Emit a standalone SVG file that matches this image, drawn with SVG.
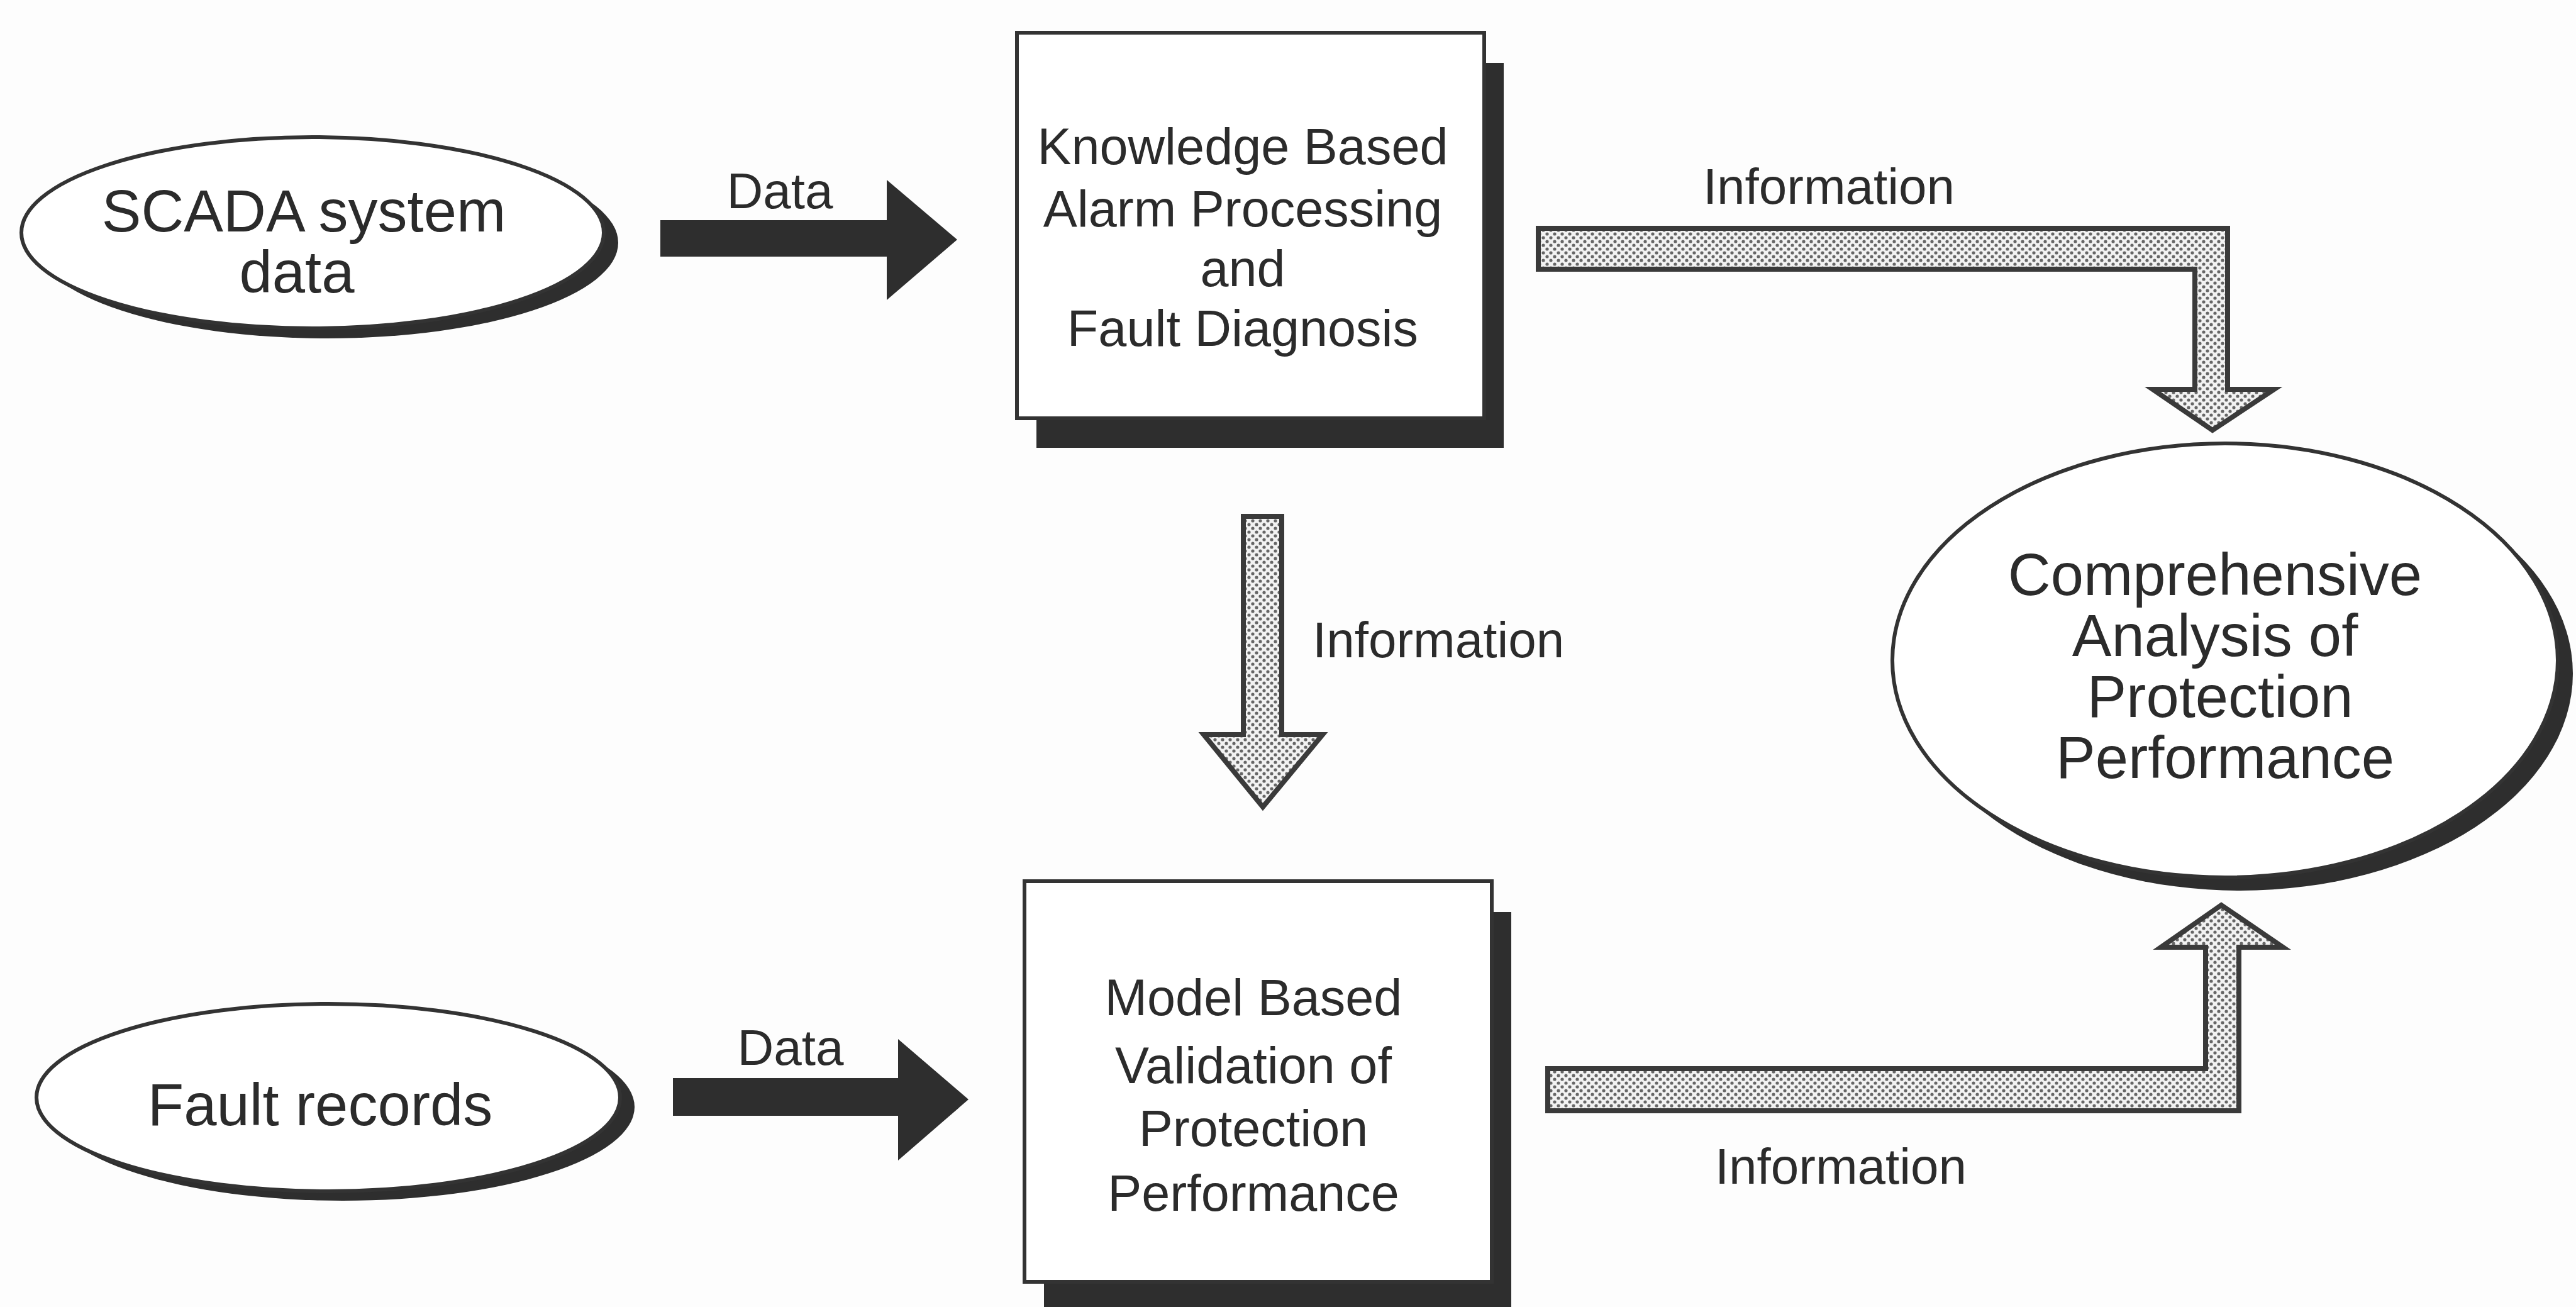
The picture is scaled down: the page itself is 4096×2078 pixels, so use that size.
<svg xmlns="http://www.w3.org/2000/svg" width="4096" height="2078" viewBox="0 0 4096 2078">
  <style>
    .lbl { font-family: "Liberation Sans", Arial, Helvetica, sans-serif; fill: #2b2b2b; text-anchor: middle; }
    .node-text { font-size: 81px; }
    .oval-text { font-size: 94px; }
    .edge-text { font-size: 80px; }
    .outline { fill: #ffffff; stroke: #333333; stroke-width: 6; }
    .shadow { fill: #2e2e2e; }
    .data-arrow { fill: #2e2e2e; }
    .info-arrow { fill: url(#dots); stroke: #3a3a3a; stroke-width: 8; stroke-linejoin: miter; }
  </style>
  <defs>
    <!-- fine dotted screen used inside the information arrows -->
    <pattern id="dots" width="12" height="12" patternUnits="userSpaceOnUse">
      <rect width="12" height="12" fill="#f2f2f2"/>
      <circle cx="0" cy="0" r="2.6" fill="#666666"/>
      <circle cx="12" cy="0" r="2.6" fill="#666666"/>
      <circle cx="0" cy="12" r="2.6" fill="#666666"/>
      <circle cx="12" cy="12" r="2.6" fill="#666666"/>
      <circle cx="6" cy="6" r="2.6" fill="#666666"/>
    </pattern>
  </defs>

  <rect width="4096" height="2078" fill="#fdfdfd"/>

  <!-- connectors -->
  <g id="connectors">
    <!-- SCADA data -> knowledge based processing -->
    <g id="edge-scada-kb">
      <polygon class="data-arrow" points="1050,350 1410,350 1410,286 1522,381 1410,477 1410,408 1050,408"/>
      <text class="lbl edge-text" x="1240" y="331">Data</text>
    </g>
    <!-- fault records -> model based validation -->
    <g id="edge-fault-mb">
      <polygon class="data-arrow" points="1070,1714 1428,1714 1428,1652 1540,1748 1428,1845 1428,1774 1070,1774"/>
      <text class="lbl edge-text" x="1257" y="1693">Data</text>
    </g>
    <!-- knowledge based -> comprehensive analysis -->
    <g id="edge-kb-ca">
      <polygon class="info-arrow" points="2446,363 3542,363 3542,619 3616,619 3518,684 3423,619 3490,619 3490,428 2446,428"/>
      <text class="lbl edge-text" x="2908" y="324">Information</text>
    </g>
    <!-- knowledge based -> model based -->
    <g id="edge-kb-mb">
      <polygon class="info-arrow" points="1977,821 2038,821 2038,1168 2103,1168 2008,1283 1914,1168 1977,1168"/>
      <text class="lbl edge-text" x="2087" y="1045" style="text-anchor:start">Information</text>
    </g>
    <!-- model based -> comprehensive analysis -->
    <g id="edge-mb-ca">
      <polygon class="info-arrow" points="2461,1699 3507,1699 3507,1506 3436,1506 3532,1439 3630,1506 3560,1506 3560,1766 2461,1766"/>
      <text class="lbl edge-text" x="2927" y="1882">Information</text>
    </g>
  </g>

  <!-- SCADA system data -->
  <g id="node-scada">
    <ellipse class="shadow" cx="520" cy="386" rx="463" ry="152"/>
    <ellipse class="outline" cx="497" cy="370" rx="463" ry="152"/>
    <text class="lbl oval-text" x="483" y="368">SCADA system</text>
    <text class="lbl oval-text" x="472" y="465">data</text>
  </g>

  <!-- Knowledge based alarm processing and fault diagnosis -->
  <g id="node-kb">
    <rect class="shadow" x="1648" y="100" width="743" height="612"/>
    <rect class="outline" x="1617" y="52" width="743" height="613"/>
    <text class="lbl node-text" x="1976" y="261">Knowledge Based</text>
    <text class="lbl node-text" x="1976" y="360">Alarm Processing</text>
    <text class="lbl node-text" x="1976" y="455">and</text>
    <text class="lbl node-text" x="1976" y="550">Fault Diagnosis</text>
  </g>

  <!-- Comprehensive analysis of protection performance -->
  <g id="node-ca">
    <ellipse class="shadow" cx="3562" cy="1071" rx="529" ry="345"/>
    <ellipse class="outline" cx="3538" cy="1050" rx="529" ry="345"/>
    <text class="lbl oval-text" x="3522" y="946">Comprehensive</text>
    <text class="lbl oval-text" x="3522" y="1043">Analysis of</text>
    <text class="lbl oval-text" x="3530" y="1140">Protection</text>
    <text class="lbl oval-text" x="3538" y="1237">Performance</text>
  </g>

  <!-- Fault records -->
  <g id="node-fault">
    <ellipse class="shadow" cx="545" cy="1760" rx="464" ry="149"/>
    <ellipse class="outline" cx="522" cy="1745" rx="464" ry="149"/>
    <text class="lbl oval-text" x="509" y="1789">Fault records</text>
  </g>

  <!-- Model based validation of protection performance -->
  <g id="node-mb">
    <rect class="shadow" x="1660" y="1450" width="743" height="640"/>
    <rect class="outline" x="1629" y="1401" width="743" height="637"/>
    <text class="lbl node-text" x="1993" y="1614">Model Based</text>
    <text class="lbl node-text" x="1993" y="1722">Validation of</text>
    <text class="lbl node-text" x="1993" y="1822">Protection</text>
    <text class="lbl node-text" x="1993" y="1925">Performance</text>
  </g>
</svg>
